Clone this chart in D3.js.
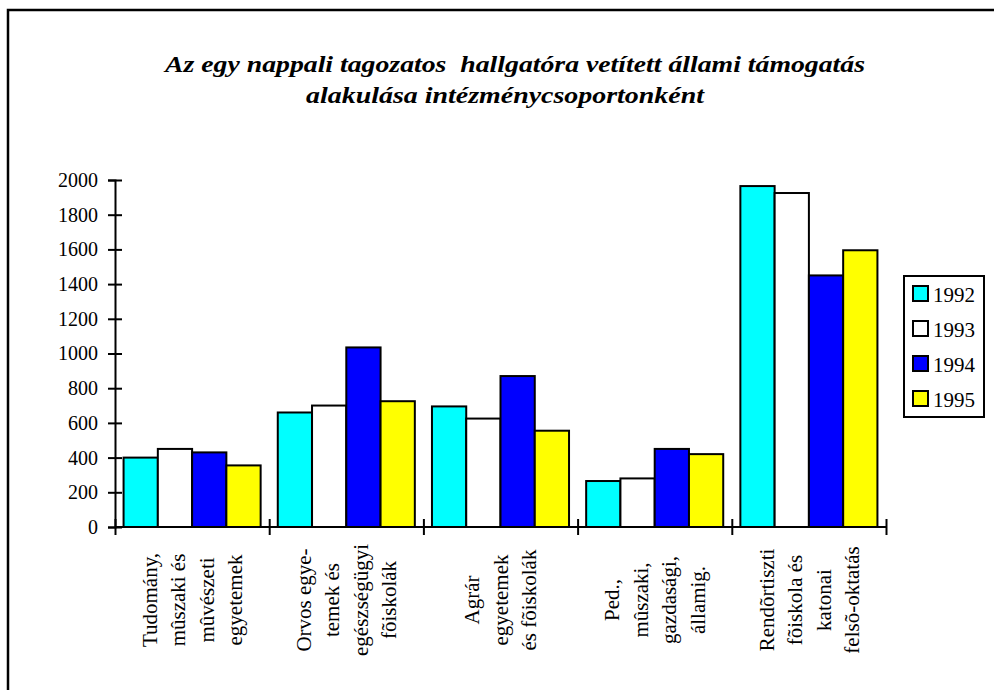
<!DOCTYPE html>
<html>
<head>
<meta charset="utf-8">
<script src="https://cdn.jsdelivr.net/npm/d3@7"></script>
<style>
  html, body { margin: 0; padding: 0; background: #fff; }
</style>
</head>
<body>
<svg id="chart" width="994" height="690"></svg>
<script>
const titleLines = ["Az egy nappali tagozatos  hallgatóra vetített állami támogatás", "alakulása intézménycsoportonként"];
const categories = ["Tudomány", "Orvos", "Agrár", "Ped", "Rendõrtiszti"];
const categoryLabels = [
  ["Tudomány,", "mûszaki és", "mûvészeti", "egyetemek"],
  ["Orvos egye-", "temek és", "egészségügyi", "fõiskolák"],
  ["Agrár", "egyetemek", "és fõiskolák"],
  ["Ped.,", "mûszaki,", "gazdasági,", "államig."],
  ["Rendõrtiszti", "fõiskola és", "katonai", "felsõ-oktatás"]
];
const years = ["1992", "1993", "1994", "1995"];
const values1992 = [400, 660, 695, 265, 1965];
const values1993 = [450, 700, 625, 280, 1925];
const values1994 = [430, 1035, 870, 450, 1450];
const values1995 = [355, 725, 555, 420, 1595];
const yTicks = [0, 200, 400, 600, 800, 1000, 1200, 1400, 1600, 1800, 2000];
const colors = ["#00FFFF", "#FFFFFF", "#0000FF", "#FFFF00"];

const FONT = "'Liberation Serif', 'Times New Roman', Tinos, 'DejaVu Serif', serif";
const series = [values1992, values1993, values1994, values1995];
const svg = d3.select("#chart");

// outer frame
svg.append("rect").attr("x", 8).attr("y", 10).attr("width", 1000).attr("height", 700)
  .attr("fill", "none").attr("stroke", "#000").attr("stroke-width", 2.5);

// title
svg.append("text").attr("x", 515).attr("y", 72).attr("text-anchor", "middle")
  .attr("textLength", 700).attr("lengthAdjust", "spacingAndGlyphs")
  .style("font-family", FONT).style("font-size", "24px").style("font-weight", "bold").style("font-style", "italic")
  .style("white-space", "pre").text(titleLines[0]);
svg.append("text").attr("x", 505).attr("y", 103).attr("text-anchor", "middle")
  .attr("textLength", 398).attr("lengthAdjust", "spacingAndGlyphs")
  .style("font-family", FONT).style("font-size", "24px").style("font-weight", "bold").style("font-style", "italic")
  .text(titleLines[1]);

const x0 = 115, x1 = 886, yBase = 527, yTop = 180;
const x = d3.scaleBand().domain(categories).range([x0, x1]).padding(0);
const xs = d3.scaleBand().domain(years).range([0, x.bandwidth()]).paddingInner(0).paddingOuter(0.25);
const y = d3.scaleLinear().domain([0, 2000]).range([yBase, yTop]);

// bars
categories.forEach((c, ci) => {
  const g = svg.append("g").attr("transform", `translate(${x(c)},0)`);
  g.selectAll("rect").data(years).join("rect")
    .attr("x", d => xs(d))
    .attr("width", xs.bandwidth())
    .attr("y", (d, i) => y(series[i][ci]))
    .attr("height", (d, i) => yBase - y(series[i][ci]))
    .attr("fill", (d, i) => colors[i])
    .attr("stroke", "#000").attr("stroke-width", 2);
});

// y axis
const yAxis = svg.append("g").attr("transform", `translate(${x0},0)`)
  .call(d3.axisLeft(y).tickValues(yTicks).tickSize(7).tickPadding(10).tickFormat(d3.format("d")));
yAxis.attr("font-family", null).attr("font-size", null);
yAxis.select(".domain").attr("stroke-width", 2);
yAxis.selectAll(".tick line").attr("x1", 7).attr("stroke-width", 2);
yAxis.selectAll(".tick text").style("font-size", "20px").style("font-family", FONT).attr("fill", "#000");

// x axis (category boundaries)
const xb = d3.scaleLinear().domain([0, categories.length]).range([x0, x1]);
const xAxis = svg.append("g").attr("transform", `translate(0,${yBase})`)
  .call(d3.axisBottom(xb).tickValues(d3.range(categories.length + 1)).tickSize(8).tickFormat(""));
xAxis.select(".domain").attr("stroke-width", 2).attr("d", `M${x0},0H${x1}`);
xAxis.selectAll(".tick line").attr("y1", -8).attr("stroke-width", 2);

// category labels (rotated)
categories.forEach((c, ci) => {
  const lines = categoryLabels[ci];
  const cx = x(c) + x.bandwidth() / 2;
  const spacing = 28.5;
  lines.forEach((ln, li) => {
    const lx = cx + (li - (lines.length - 1) / 2) * spacing;
    svg.append("text")
      .attr("transform", `translate(${lx},600) rotate(-90)`)
      .attr("text-anchor", "middle").attr("dy", "0.35em")
      .style("font-family", FONT).style("font-size", "21px").attr("fill", "#000")
      .text(ln);
  });
});

// legend
const legend = svg.append("g");
legend.append("rect").attr("x", 904).attr("y", 276).attr("width", 80).attr("height", 141)
  .attr("fill", "#fff").attr("stroke", "#000").attr("stroke-width", 2);
years.forEach((yr, i) => {
  const ry = 286 + i * 35;
  legend.append("rect").attr("x", 913).attr("y", ry).attr("width", 15).attr("height", 15)
    .attr("fill", colors[i]).attr("stroke", "#000").attr("stroke-width", 2);
  legend.append("text").attr("x", 933).attr("y", ry + 16)
    .style("font-family", FONT).style("font-size", "21px").attr("fill", "#000").text(yr);
});
</script>
</body>
</html>
